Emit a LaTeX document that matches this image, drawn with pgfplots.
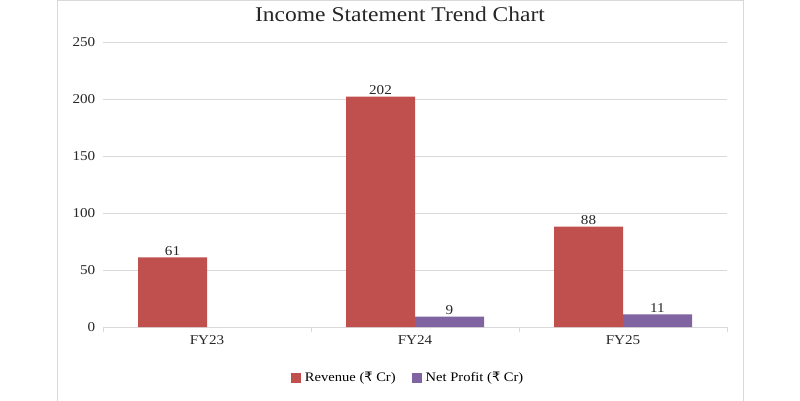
\documentclass[border=0pt]{standalone}
\usepackage{pgfplots}
\pgfplotsset{compat=1.18}
\usepackage{fontspec}
\setmainfont[FakeStretch=1.12]{Liberation Serif}
\newfontfamily\symfont{DejaVu Sans}
\definecolor{rev}{HTML}{C0504D}
\definecolor{np}{HTML}{8064A2}
\definecolor{gridc}{HTML}{D9D9D9}
\begin{document}
\begin{tikzpicture}[x=1pt,y=1pt]
\path[use as bounding box] (0,0) rectangle (800,400);
\draw[color=gridc,line width=1pt] (57,-5) rectangle (743,399.5);
\begin{axis}[
  at={(103pt,73pt)}, anchor=south west,
  scale only axis, width=624pt, height=285pt,
  ymin=0, ymax=250, ytick={0,50,...,250},
  xmin=-0.5, xmax=2.5,
  xtick={0,1,2}, xticklabels={FY23,FY24,FY25},
  minor xtick={-0.5,0.5,1.5,2.5},
  major x tick style={draw=none},
  minor x tick style={color=gridc,line width=1pt},
  minor tick length=5pt,
  tick align=outside,
  y tick style={draw=none},
  ymajorgrids, grid style={color=gridc,line width=0.9pt},
  axis x line*=bottom,
  axis y line*=left,
  x axis line style={color=gridc,line width=1pt,-},
  y axis line style={draw=none},
  ybar=0pt, bar width=69pt,
  ticklabel style={font=\fontsize{13.5}{15}\selectfont, color=black!85},
  /pgf/number format/assume math mode=true,
  xticklabel style={yshift=-1pt},
  yticklabel style={xshift=0pt},
  nodes near coords,
  nodes near coords style={font=\fontsize{13.5}{15}\selectfont, color=black!85, yshift=-1.5pt},
  legend style={at={(0.489,-0.178)}, anchor=center, draw=none,
    font=\fontsize{13}{15}\selectfont, column sep=2pt,
    /tikz/every odd column/.append style={column sep=2pt},
    /tikz/every even column/.append style={column sep=14pt}},
  legend columns=2,
  legend image code/.code={\draw[#1,draw=none] (0pt,-5pt) rectangle (10pt,5pt);},
  clip=false,
]
\addplot[fill=rev, draw=none] coordinates {(0,61) (1,202) (2,88)};
\addplot[fill=np, draw=none] coordinates {(1,9) (2,11)};
\legend{Revenue ({\symfont ₹} Cr), Net Profit ({\symfont ₹} Cr)}
\end{axis}
\node[font=\fontsize{21}{24}\selectfont, color=black!85] at (400,386) {Income Statement Trend Chart};
\end{tikzpicture}
\end{document}
